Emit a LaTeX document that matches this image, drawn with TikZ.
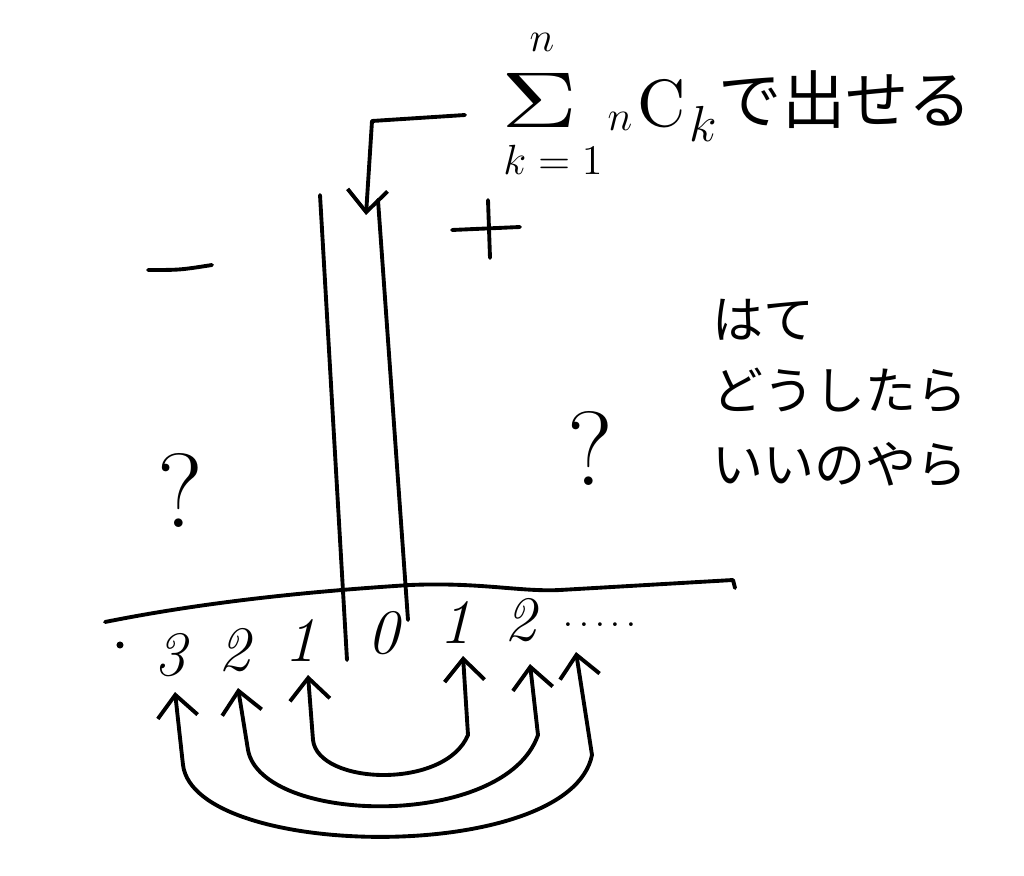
\documentclass[tikz,border=0pt]{standalone}
\usepackage{fontspec}
\newfontfamily\jp{Noto Sans CJK JP}
\usetikzlibrary{arrows.meta}
\begin{document}
\begin{tikzpicture}[x=0.01cm,y=-0.01cm, line cap=round, line join=round,
  stroke/.style={draw=black, line width=1.1pt},
  tip/.style={-{Straight Barb[length=2.2mm,width=4mm]}},
  arr/.style={stroke, {Straight Barb[length=2.2mm,width=4mm]}-{Straight Barb[length=2.2mm,width=4mm]}},
  num/.style={font=\fontsize{18}{20}\selectfont\itshape, inner sep=0pt},
  qm/.style={font=\fontsize{30}{32}\selectfont, inner sep=0pt},
  mathpart/.style={inner sep=0pt},
  jtext/.style={font=\jp\fontsize{14.5}{18}\selectfont, anchor=west, inner sep=0pt}]
\useasboundingbox (0,0) rectangle (1024,876);
% formula, in parts
\node[mathpart, xscale=3.0, yscale=2.25] (sig) at (540,100) {$\Sigma$};
\node[mathpart] (supn) at (542,42) {\fontsize{13}{13}\selectfont$n$};
\node[mathpart] (subk) at (553,160) {\fontsize{13}{13}\selectfont$k=1$};
\node[mathpart] (nn) at (620,121) {\fontsize{13}{13}\selectfont$n$};
\node[mathpart, scale=1.9] (cc) at (662,104) {$\mathrm{C}$};
\node[mathpart] (kk) at (703,124) {\fontsize{14}{14}\selectfont$k$};
\node[mathpart, anchor=west, font=\jp\fontsize{18}{20}\selectfont] (formula) at (718,100) {で出せる};
% pointer arrow
\coordinate (pstart) at (465,115);
\coordinate (pbend) at (372,121);
\coordinate (ptip) at (366,215);
\draw[stroke,tip] (pstart) -- (pbend) -- (ptip);
% vertical strip
\coordinate (sl1) at (320,195); \coordinate (sl2) at (347,660);
\coordinate (sr1) at (378,200); \coordinate (sr2) at (408,620);
\draw[stroke] (sl1) -- (sl2);
\draw[stroke] (sr1) -- (sr2);
% signs
\coordinate (m1) at (148,270); \coordinate (m2) at (212,265);
\draw[stroke] (m1) .. controls (180,270) .. (m2);
\coordinate (p1) at (452,230); \coordinate (p2) at (520,227);
\coordinate (p3) at (488,200); \coordinate (p4) at (490,258);
\draw[stroke] (p1) -- (p2);
\draw[stroke] (p3) -- (p4);
% question marks
\node[qm] (q1) at (180,490) {?};
\node[qm] (q2) at (590,448) {?};
% right text
\node[jtext] (t1) at (712,320) {はて};
\node[jtext] (t2) at (712,390) {どうしたら};
\node[jtext] (t3) at (712,465) {いいのやら};
% number line
\coordinate (b0) at (105,622);
\coordinate (b1) at (410,585);
\coordinate (b2) at (560,590);
\coordinate (b3) at (733,580);
\coordinate (b4) at (735,588);
\draw[stroke] (b0) .. controls (200,603) and (300,592) .. (b1) .. controls (480,582) and (520,592) .. (b2) -- (b3) -- (b4);
\fill (120,645) circle (1pt);
% numbers
\node[num] (n3l) at (170,655) {3};
\node[num] (n2l) at (234,650) {2};
\node[num] (n1l) at (300,640) {1};
\node[num] (n0) at (383,633) {0};
\node[num] (n1r) at (455,622) {1};
\node[num] (n2r) at (520,620) {2};
\node[num, font=\fontsize{10}{10}\selectfont] (dots) at (600,625) {.\,.\,.\,.\,.};
% arcs
\coordinate (a1l) at (308,675); \coordinate (a1r) at (463,656);
\coordinate (a2l) at (238,688); \coordinate (a2r) at (530,664);
\coordinate (a3l) at (175,692); \coordinate (a3r) at (576,652);
\draw[arr] (a1l) -- (313,740) .. controls (318,785) and (445,790) .. (468,735) -- (a1r);
\draw[arr] (a2l) -- (248,750) .. controls (262,825) and (505,830) .. (538,735) -- (a2r);
\draw[arr] (a3l) -- (183,765) .. controls (195,860) and (570,865) .. (592,755) -- (a3r);
\end{tikzpicture}
\end{document}
